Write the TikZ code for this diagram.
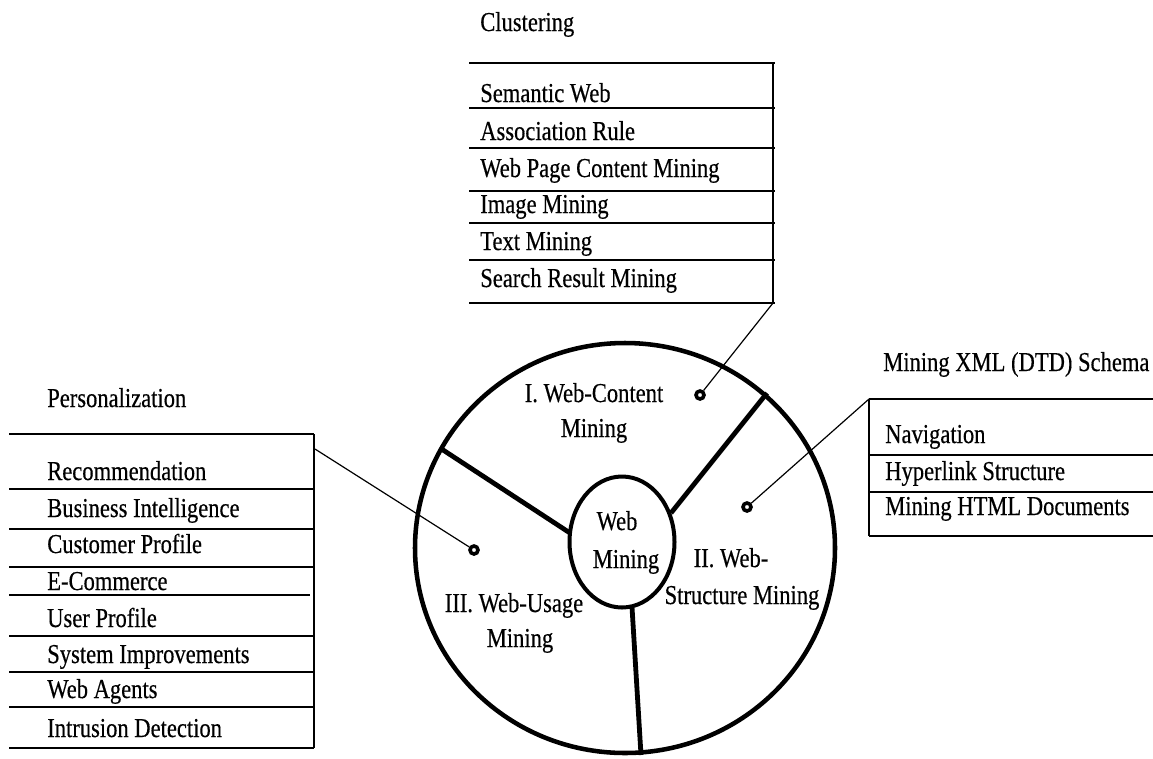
\documentclass[tikz,border=0pt]{standalone}
\usepackage{fontspec}
\setmainfont{Liberation Serif}[FakeStretch=0.825,FakeBold=0.4]
\usetikzlibrary{shapes.geometric}
\newcommand\itemfont{\fontsize{20.5pt}{24pt}\selectfont}
\begin{document}
\begin{tikzpicture}[x=0.75pt,y=-0.75pt,
  txt/.style={anchor=base west, inner sep=0pt, font=\itemfont},
  ctxt/.style={anchor=base, inner sep=0pt, font=\itemfont},
  rim/.style={draw, ellipse, line width=3.4pt, inner sep=0pt},
  spoke/.style={line width=3.6pt},
  rowline/.style={line width=1.4pt},
  leader/.style={line width=0.9pt},
  dot/.style={draw, circle, line width=2.7pt, inner sep=0pt, minimum size=6pt}
]
\useasboundingbox (0,0) rectangle (1153,758);

% ---- the wheel ----
\node[rim, minimum width=315pt, minimum height=307.5pt] (outer) at (625,548) {};
\node[rim, line width=3pt, minimum width=78.75pt, minimum height=98.25pt] (hub) at (622,542) {};

\coordinate (s1a) at (570,533); \coordinate (s1b) at (440,448);
\coordinate (s2a) at (671,513); \coordinate (s2b) at (767,393);
\coordinate (s3a) at (632,607); \coordinate (s3b) at (641,755);
\draw[spoke] (s1a) -- (s1b);
\draw[spoke] (s2a) -- (s2b);
\draw[spoke] (s3a) -- (s3b);

\node[ctxt] (hubA) at (617,530) {Web};
\node[ctxt] (hubB) at (626,568) {Mining};

\node[ctxt] (wcA) at (594,402) {I. Web-Content};
\node[ctxt] (wcB) at (594,437) {Mining};
\node[ctxt] (wsA) at (731,567) {II. Web-};
\node[ctxt] (wsB) at (742,604) {Structure Mining};
\node[ctxt] (wuA) at (514,612) {III. Web-Usage};
\node[ctxt] (wuB) at (520,647) {Mining};

\node[dot] (dc) at (700,395) {};
\node[dot] (ds) at (747,507) {};
\node[dot] (du) at (474,550) {};

% ---- content list ----
\node[txt] (clu) at (480,31) {Clustering};
\foreach \y in {63,108,148,191,223,260,303}
  \draw[rowline] (469,\y) -- (775,\y);
\draw[rowline] (773,63) -- (773,303);
\coordinate (cc) at (773,303);
\node[txt] at (480,102) {Semantic Web};
\node[txt] at (480,140) {Association Rule};
\node[txt] at (480,177) {Web Page Content Mining};
\node[txt] at (480,213) {Image Mining};
\node[txt] at (480,250) {Text Mining};
\node[txt] at (480,287) {Search Result Mining};
\draw[leader] (dc) -- (cc);

% ---- usage list ----
\node[txt] (per) at (47,407) {Personalization};
\foreach \y in {434,489,529,567,636,672,707,748}
  \draw[rowline] (9,\y) -- (314,\y);
\draw[rowline] (9,595) -- (310,595);
\draw[rowline] (314,434) -- (314,748);
\coordinate (uc) at (315,449);
\node[txt] at (47,480) {Recommendation};
\node[txt] at (47,517) {Business Intelligence};
\node[txt] at (47,553) {Customer Profile};
\node[txt] at (47,590) {E-Commerce};
\node[txt] at (47,627) {User Profile};
\node[txt] at (47,663) {System Improvements};
\node[txt] at (47,698) {Web Agents};
\node[txt] at (47,737) {Intrusion Detection};
\draw[leader] (du) -- (uc);

% ---- structure list ----
\node[txt] (xml) at (883,371) {Mining XML (DTD) Schema};
\foreach \y in {399,455,492,536}
  \draw[rowline] (869,\y) -- (1153,\y);
\draw[rowline] (869,399) -- (869,536);
\coordinate (sc) at (869,399);
\node[txt] at (885,443) {Navigation};
\node[txt] at (885,480) {Hyperlink Structure};
\node[txt] at (885,515) {Mining HTML Documents};
\draw[leader] (ds) -- (sc);
\end{tikzpicture}
\end{document}
